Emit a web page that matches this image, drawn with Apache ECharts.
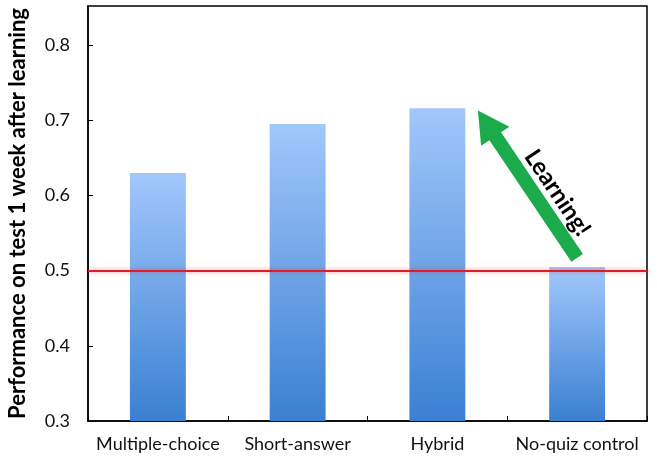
<!DOCTYPE html>
<html>
<head>
<meta charset="utf-8">
<script src="https://cdn.jsdelivr.net/npm/echarts@6/dist/echarts.min.js"></script>
<style>html,body{margin:0;padding:0;background:#fff}#c{width:657px;height:468px}</style>
</head>
<body>
<div id="c"></div>
<script>
const categories = ['Multiple-choice', 'Short-answer', 'Hybrid', 'No-quiz control'];
const performance = [0.630, 0.695, 0.716, 0.505];
const baseline = 0.502;
const yTicks = [0.3, 0.4, 0.5, 0.6, 0.7, 0.8];
const arrowFrom = [3, 0.517];
const arrowTo = [2, 0.713];
const arrowLabel = 'Learning!';
const yTitle = 'Performance on test 1 week after learning';

const FONT = 'Lato';
const chart = echarts.init(document.getElementById('c'), null, {renderer: 'canvas'});
chart.setOption({
  animation: false,
  backgroundColor: '#fff',
  grid: {left: 88, right: 10, top: 6, bottom: 47, outerBoundsMode: 'none', containLabel: false,
    show: true, borderColor: '#000', borderWidth: 1.5, backgroundColor: 'transparent'},
  xAxis: {
    type: 'category', data: categories,
    axisLine: {lineStyle: {color: '#000', width: 1.5}},
    axisTick: {show: true, inside: true, length: 5, interval: 0, lineStyle: {color: '#000'}},
    axisLabel: {color: '#111', fontFamily: FONT, fontSize: 18, margin: 14, interval: 0}
  },
  yAxis: {
    type: 'value', min: 0.3, max: 0.852, interval: 0.1,
    name: yTitle, nameLocation: 'middle', nameGap: 59,
    nameTextStyle: {fontFamily: FONT, fontWeight: 'bold', fontSize: 22, color: '#000'},
    splitLine: {show: false},
    axisLine: {show: true, lineStyle: {color: '#000', width: 1.5}},
    axisTick: {show: true, inside: true, length: 5, lineStyle: {color: '#000'}},
    axisLabel: {color: '#111', fontFamily: FONT, fontSize: 18, margin: 18, showMaxLabel: false,
      formatter: v => (yTicks.some(t => Math.abs(t - v) < 1e-6) ? v.toFixed(1) : '')}
  },
  series: [{
    type: 'bar', data: performance, barWidth: '40%',
    itemStyle: {
      color: new echarts.graphic.LinearGradient(0, 0, 0, 1, [
        {offset: 0, color: '#a2c7fb'}, {offset: 1, color: '#3a80d2'}
      ]),
      shadowColor: 'rgba(90,150,230,0.35)', shadowBlur: 3
    },
    markLine: {
      silent: true, symbol: 'none', label: {show: false},
      lineStyle: {color: '#dd1f2a', width: 2, type: 'solid', shadowColor: 'rgba(230,40,40,0.55)', shadowBlur: 4},
      data: [{yAxis: baseline}]
    }
  }]
});

function drawArrow() {
  const p3 = chart.convertToPixel({seriesIndex: 0}, arrowFrom);
  const p2 = chart.convertToPixel({seriesIndex: 0}, arrowTo);
  const pAdj = chart.convertToPixel({seriesIndex: 0}, [arrowTo[0] + 1, arrowTo[1]]);
  const band = pAdj[0] - p2[0];
  const tail = [p3[0], p3[1]];
  const tip = [p2[0] + 0.29 * band, p2[1]];
  const dx = tip[0] - tail[0], dy = tip[1] - tail[1];
  const L = Math.hypot(dx, dy);
  const u = [dx / L, dy / L];
  const n = [-u[1], u[0]];
  const headLen = 31, headHalf = 17, shaftHalf = 7;
  const base = [tip[0] - u[0] * headLen, tip[1] - u[1] * headLen];
  const pt = (p, k) => [p[0] + n[0] * k, p[1] + n[1] * k];
  const pts = [pt(tail, shaftHalf), pt(base, shaftHalf), pt(base, headHalf), tip, pt(base, -headHalf), pt(base, -shaftHalf), pt(tail, -shaftHalf)];
  const mid = [(tail[0] + tip[0]) / 2, (tail[1] + tip[1]) / 2];
  const right = n[0] > 0 ? n : [-n[0], -n[1]];
  const tc = [mid[0] + right[0] * 20 - u[0] * 24, mid[1] + right[1] * 20 - u[1] * 24];
  const ang = Math.atan2(-u[1], -u[0]);
  chart.setOption({
    graphic: [
      {type: 'polygon', shape: {points: pts}, style: {fill: '#1cab4b'}, z: 10},
      {type: 'text', x: tc[0], y: tc[1], rotation: -ang, z: 11,
        style: {text: arrowLabel, fill: '#000', font: 'bold 24px ' + FONT, align: 'center', verticalAlign: 'middle'}}
    ]
  });
}
drawArrow();
</script>
</body>
</html>
